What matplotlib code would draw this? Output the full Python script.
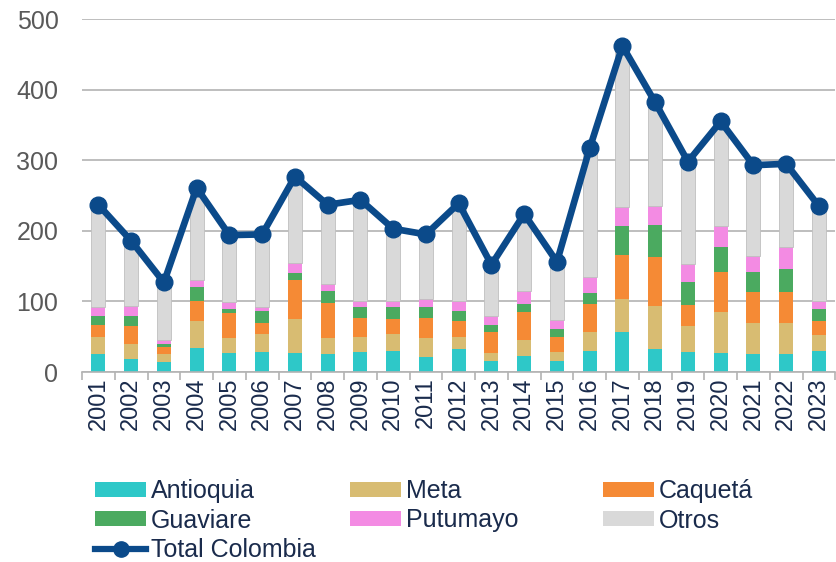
import matplotlib
matplotlib.use("Agg")
import matplotlib.pyplot as plt
import numpy as np
from matplotlib.lines import Line2D
from matplotlib.patches import Patch

years = [str(y) for y in range(2001, 2024)]
antioquia = [25, 19, 14, 34, 27, 29, 27, 25, 29, 30, 22, 32, 15, 23, 15, 30, 57, 32, 29, 27, 25, 25, 30]
meta =      [25, 21, 11, 38, 21, 25, 48, 23, 21, 24, 26, 18, 12, 22, 14, 27, 46, 61, 36, 58, 44, 45, 23]
caqueta =   [16, 25, 11, 29, 35, 15, 55, 50, 27, 21, 29, 23, 30, 40, 21, 39, 63, 70, 30, 57, 45, 44, 20]
guaviare =  [14, 14, 4, 19, 7, 17, 10, 17, 15, 17, 15, 14, 9, 12, 11, 16, 41, 46, 32, 35, 28, 32, 16]
putumayo =  [12, 14, 6, 11, 9, 6, 14, 10, 8, 8, 11, 13, 14, 18, 13, 23, 27, 26, 26, 30, 23, 31, 12]
total =     [237, 186, 127, 261, 194, 195, 277, 237, 244, 203, 195, 239, 152, 224, 156, 317, 462, 382, 298, 355, 293, 295, 235]

series = [("Antioquia", antioquia, "#2EC8C8"),
          ("Meta", meta, "#D8BC72"),
          ("Caquetá", caqueta, "#F58A35"),
          ("Guaviare", guaviare, "#4BAA60"),
          ("Putumayo", putumayo, "#F38BE3")]

plt.rcParams['font.family'] = ['Liberation Sans', 'DejaVu Sans']

fig = plt.figure(figsize=(8.37, 5.62), dpi=100)
ax = fig.add_axes([0.098, 0.338, 0.9, 0.628])

x = np.arange(len(years))
bottom = np.zeros(len(years))
handles = {}
for name, vals, col in series:
    v = np.array(vals, dtype=float)
    ax.bar(x, v, 0.43, bottom=bottom, color=col, zorder=2)
    bottom += v
    handles[name] = Patch(facecolor=col, edgecolor='none')
otros = np.array(total, dtype=float) - bottom
ax.bar(x, otros, 0.43, bottom=bottom, color="#D9D9D9", edgecolor="#BFBFBF", linewidth=0.6, zorder=2)
handles["Otros"] = Patch(facecolor="#D9D9D9", edgecolor='none')

line_col = "#0B4A8A"
ax.plot(x, total, color=line_col, lw=4.8, marker='o', ms=12, zorder=4, clip_on=False)
handles["Total Colombia"] = Line2D([], [], color=line_col, lw=4.5, marker='o', ms=11)

ax.set_xlim(-0.5, len(years) - 0.5)
ax.set_ylim(0, 500)
ax.set_yticks([0, 100, 200, 300, 400, 500])
ax.yaxis.grid(True, color="#B3B3B3", lw=1.2, zorder=0)
ax.set_axisbelow(True)
for s in ['left', 'right', 'top']:
    ax.spines[s].set_visible(False)
ax.spines['bottom'].set_color("#B3B3B3")
ax.spines['bottom'].set_linewidth(1.2)
ax.tick_params(axis='y', length=0, labelsize=18, labelcolor="#595959", pad=17)
ax.set_xticks(x)
ax.set_xticklabels(years, rotation=90, fontsize=17, color="#1A2B4C")
ax.tick_params(axis='x', length=0, pad=4)
ax.set_xticks(np.arange(-0.5, len(years), 1), minor=True)
ax.tick_params(axis='x', which='minor', length=6, color="#B3B3B3", width=1.2)

columns = [(["Antioquia", "Guaviare", "Total Colombia"], 95),
           (["Meta", "Putumayo"], 350),
           (["Caquetá", "Otros"], 603)]
for labels, xpix in columns:
    leg = fig.legend([handles[k] for k in labels], labels, loc='upper left',
                     bbox_to_anchor=(xpix / 837, 1 - 479 / 562), ncol=1, frameon=False,
                     fontsize=18, handlelength=2.05, handleheight=0.55, handletextpad=0.2,
                     labelspacing=0.22, borderaxespad=0, borderpad=0)
    for t in leg.get_texts():
        t.set_color("#1A2B4C")

fig.savefig("out.png", dpi=100)
